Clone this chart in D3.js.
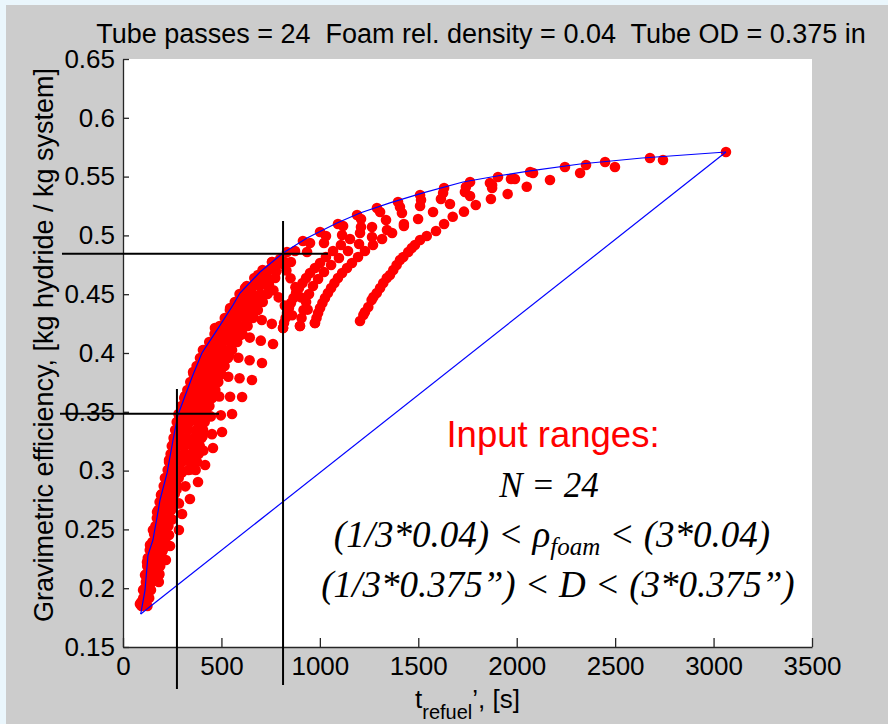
<!DOCTYPE html>
<html>
<head>
<meta charset="utf-8">
<script src="https://cdn.jsdelivr.net/npm/d3@7"></script>
<style>
  body { margin: 0; background: #eaf6fc; }
  svg { display: block; }
</style>
</head>
<body>
<div id="chart"></div>
<script>
// data: refuel time [s] vs gravimetric efficiency

var xTicks = [0, 500, 1000, 1500, 2000, 2500, 3000, 3500],
    yTicks = [0.15, 0.2, 0.25, 0.3, 0.35, 0.4, 0.45, 0.5, 0.55, 0.6, 0.65];

// blue pareto front
var frontT   = [90, 112, 127, 152, 173, 188, 224, 254, 279, 351, 401, 478, 559, 594, 696, 813, 935, 1087, 1204, 1356, 1524, 1727, 1900, 2068, 2322, 2637, 3063],
    frontEff = [0.178, 0.1985, 0.2282, 0.241, 0.2605, 0.275, 0.298, 0.326, 0.3473, 0.3796, 0.4, 0.4196, 0.4408, 0.451, 0.4689, 0.485, 0.4978, 0.5105, 0.519, 0.5276, 0.5361, 0.5454, 0.5505, 0.5548, 0.5607, 0.5658, 0.5709];

// straight line between the two extremes
var chordT = [90, 3063],
    chordEff = [0.178, 0.5709];

// design points, one list per swept curve: [t_refuel, efficiency]
var rowCurves = [
  [[86,.1866],[91,.1878],[99,.1896],[108,.1919],[120,.1950],[137,.1993]],
  [[102,.1985],[110,.1997],[121,.2015],[136,.2038],[155,.2069],[183,.2112]],
  [[112,.2112],[122,.2125],[137,.2143],[156,.2166],[182,.2196],[218,.2240]],
  [[122,.2223],[133,.2236],[150,.2255],[171,.2280],[199,.2313],[239,.2359]],
  [[137,.2367],[152,.2380],[173,.2398],[199,.2421],[234,.2452],[284,.2495]],
  [[152,.2495],[167,.2508],[188,.2527],[214,.2552],[249,.2585],[300,.2631]],
  [[173,.2648],[190,.2659],[213,.2674],[244,.2695],[284,.2721],[340,.2759]],
  [[193,.2793],[212,.2804],[238,.2819],[272,.2839],[317,.2866],[381,.2903]],
  [[213,.2937],[234,.2948],[262,.2963],[299,.2984],[347,.3010],[417,.3048]],
  [[234,.3090],[249,.3099],[271,.3109],[298,.3121],[330,.3135],[365,.3151],[408,.3171],[457,.3192]],
  [[259,.3243],[278,.3250],[303,.3258],[332,.3269],[366,.3281],[405,.3294],[452,.3310],[503,.3328]],
  [[284,.3430],[306,.3435],[333,.3440],[365,.3446],[403,.3452],[446,.3461],[497,.3470],[554,.3481]],
  [[315,.3634],[338,.3633],[367,.3633],[402,.3632],[442,.3631],[489,.3630],[544,.3628],[605,.3626]],
  [[356,.3838],[379,.3833],[409,.3827],[445,.3818],[488,.3809],[535,.3798],[592,.3785],[655,.3770]],
  [[406,.4025],[430,.4017],[460,.4006],[496,.3992],[538,.3977],[586,.3959],[643,.3938],[706,.3915]],
  [[467,.4213],[491,.4202],[520,.4188],[556,.4172],[597,.4153],[644,.4131],[700,.4105],[762,.4077]],
  [[544,.4383],[565,.4369],[592,.4352],[624,.4332],[662,.4308],[705,.4281],[756,.4248],[813,.4213]],
  [[706,.4663],[721,.4628],[741,.4585],[764,.4533],[791,.4473],[822,.4403],[859,.4321],[899,.4230]],
  [[798,.4799],[812,.4756],[830,.4702],[851,.4636],[876,.4560],[904,.4473],[938,.4369],[975,.4255]]
];

// points packed just under the front
var bandCurves = [
  [[94,.1849],[103,.1917],[112,.1985],[116,.2053],[119,.2121],[123,.2189],[126,.2257],[136,.2325],
   [149,.2393],[158,.2461],[165,.2529],[172,.2597],[179,.2665],[186,.2733],[197,.2801],[207,.2869],
   [217,.2937],[227,.3005],[234,.3073],[242,.3141],[248,.3209],[257,.3277],[265,.3345],[273,.3413],
   [282,.3481],[297,.3549],[311,.3617],[327,.3685],[342,.3753],[358,.3821],[374,.3889],[391,.3957],
   [412,.4025],[438,.4094],[465,.4162],[491,.4230],[517,.4298],[543,.4366],[568,.4434],[592,.4502],
   [629,.4570],[667,.4638],[709,.4706],[757,.4774]],
  [[124,.1849],[133,.1917],[142,.1985],[146,.2053],[149,.2121],[153,.2189],[156,.2257],[166,.2325],
   [179,.2393],[188,.2461],[195,.2529],[202,.2597],[209,.2665],[216,.2733],[227,.2801],[237,.2869],
   [247,.2937],[257,.3005],[264,.3073],[272,.3141],[278,.3209],[287,.3277],[295,.3345],[303,.3413],
   [312,.3481],[327,.3549],[341,.3617],[357,.3685],[372,.3753],[388,.3821],[404,.3889],[421,.3957],
   [442,.4025],[468,.4094],[495,.4162],[521,.4230],[547,.4298],[573,.4366],[598,.4434],[622,.4502],
   [659,.4570],[697,.4638],[739,.4706],[787,.4774]],
  [[182,.2053],[185,.2121],[189,.2189],[192,.2257],[202,.2325],[215,.2393],[224,.2461],[231,.2529],
   [238,.2597],[245,.2665],[252,.2733],[263,.2801],[273,.2869],[283,.2937],[293,.3005],[300,.3073],
   [308,.3141],[314,.3209],[323,.3277],[331,.3345],[339,.3413],[348,.3481],[363,.3549],[377,.3617],
   [393,.3685],[408,.3753],[424,.3821],[440,.3889],[457,.3957],[478,.4025],[504,.4094],[531,.4162],
   [557,.4230],[583,.4298],[609,.4366],[634,.4434],[658,.4502],[695,.4570],[733,.4638],[775,.4706],[823,.4774]],
  [[333,.3005],[340,.3073],[348,.3141],[354,.3209],[363,.3277],[371,.3345],[379,.3413],[388,.3481],
   [403,.3549],[417,.3617],[433,.3685],[448,.3753],[464,.3821],[480,.3889],[497,.3957],[518,.4025],
   [544,.4094],[571,.4162],[597,.4230],[623,.4298],[649,.4366],[674,.4434],[698,.4502],[735,.4570],[773,.4638]],
  [[369,.3005],[376,.3073],[384,.3141],[390,.3209],[399,.3277],[407,.3345],[415,.3413],[424,.3481],
   [439,.3549],[453,.3617],[469,.3685],[484,.3753],[500,.3821],[516,.3889],[533,.3957],[554,.4025],
   [580,.4094],[607,.4162],[633,.4230],[659,.4298],[685,.4366],[710,.4434],[734,.4502]]
];

var arcCurves = [
  [[1204,.4272],[1221,.4323],[1229,.4349],[1246,.4391],[1263,.4451],[1272,.4476],[1289,.4510],[1306,.4553],
   [1322,.4595],[1340,.4638],[1356,.4663],[1373,.4706],[1390,.4748],[1407,.4791],[1424,.4816],[1449,.4859],
   [1467,.4893],[1483,.4918],[1509,.4961],[1543,.4995],[1590,.5037],[1631,.5097],[1675,.5159],[1732,.5202],
   [1792,.5259],[1869,.5310],[1954,.5352],[2051,.5414],[2169,.5471],[2322,.5531],[2499,.5582],[2743,.5641]],
  [[975,.4255],[983,.4298],[991,.4340],[1001,.4383],[1013,.4425],[1026,.4468],[1041,.4510],[1057,.4553],
   [1074,.4595],[1092,.4638],[1113,.4680],[1138,.4723],[1163,.4765],[1194,.4816],[1229,.4867],[1270,.4918],
   [1316,.4969],[1367,.5020],[1427,.5080],[1499,.5139],[1575,.5199],[1661,.5267],[1763,.5335],[1875,.5403],
   [1971,.5480],[2083,.5531],[2352,.5599]],
  [[899,.4230],[907,.4298],[917,.4366],[930,.4434],[945,.4502],[965,.4570],[991,.4629],[1021,.4689],
   [1057,.4748],[1097,.4808],[1143,.4867],[1199,.4927],[1265,.4986],[1341,.5046],[1427,.5097]],
  [[813,.4213],[818,.4255],[826,.4298],[833,.4340],[843,.4383],[853,.4425],[866,.4468],[879,.4510],
   [894,.4553],[912,.4595],[930,.4638],[950,.4680],[975,.4723],[1001,.4765],[1031,.4816],[1067,.4867],
   [1107,.4918],[1153,.4969],[1204,.5020],[1265,.5071],[1336,.5131],[1417,.5190],[1509,.5250],[1615,.5310],
   [1737,.5369],[1875,.5429]],
  [[874,.4867],[950,.4935],[1031,.4995],[1118,.5080],[1209,.5139],[1306,.5199],[1407,.5241],[1514,.5301],
   [1626,.5361],[1742,.5412],[1864,.5446],[1991,.5480]],
  [[554,.4357],[620,.4553],[686,.4663],[757,.4774],[833,.4859],[914,.4952],[1001,.5029],[1092,.5097],
   [1189,.5173],[1290,.5233],[1397,.5284],[1509,.5344],[1631,.5403],[1763,.5454],[1905,.5497],[2068,.5539],
   [2245,.5582],[2449,.5624],[2677,.5658],[3063,.5709]],
  [[645,.4519],[706,.4604],[777,.4689],[853,.4774],[935,.4859],[1021,.4935],[1113,.5003],[1209,.5071]]
];

// black guide lines drawn on the slide: [t0, eff0, t1, eff1]
var guideLines = [
  [813, 0.5122, 813, 0.1177],
  [-310, 0.4844, 1041, 0.4844],
  [274, 0.3694, 274, 0.1143],
  [-320, 0.3484, 488, 0.3484]
];

// ---------------------------------------------------------------

var svg = d3.select("#chart").append("svg")
    .attr("width", 888)
    .attr("height", 724);

svg.append("rect")
    .attr("width", 888).attr("height", 724)
    .attr("fill", "#eaf6fc");

svg.append("rect")
    .attr("x", 6).attr("y", 5)
    .attr("width", 882).attr("height", 719)
    .attr("fill", "#cccccc");

var x = d3.scaleLinear().domain([0, 3500]).range([123, 812]);
var y = d3.scaleLinear().domain([0.15, 0.65]).range([647, 59]);

svg.append("rect")
    .attr("x", x(0)).attr("y", y(0.65))
    .attr("width", x(3500) - x(0))
    .attr("height", y(0.15) - y(0.65))
    .attr("fill", "#ffffff");

var sans = "'Liberation Sans', Arial, sans-serif",
    serif = "'Liberation Serif', 'Times New Roman', serif";

var xAxis = d3.axisBottom(x)
    .tickValues(xTicks)
    .tickSize(-9)
    .tickSizeOuter(0)
    .tickPadding(10)
    .tickFormat(d3.format("d"));

var yAxis = d3.axisLeft(y)
    .tickValues(yTicks)
    .tickSize(-6)
    .tickSizeOuter(0)
    .tickPadding(8)
    .tickFormat(function(d) { return String(+d.toFixed(2)); });

var gX = svg.append("g")
    .attr("transform", "translate(0," + y(0.15) + ")")
    .call(xAxis);

var gY = svg.append("g")
    .attr("transform", "translate(" + x(0) + ",0)")
    .call(yAxis);

[gX, gY].forEach(function(g) {
    g.attr("font-family", sans).attr("font-size", 26);
    g.selectAll("path, line").attr("stroke", "#262626").attr("stroke-width", 1.3);
    g.selectAll("text").attr("fill", "#000");
});

// red design points
var allCurves = rowCurves.concat(bandCurves, arcCurves);
var dots = svg.append("g").attr("class", "dots");
allCurves.forEach(function(c) {
    dots.selectAll(null)
        .data(c)
        .enter()
        .append("circle")
        .attr("cx", function(d) { return x(d[0]); })
        .attr("cy", function(d) { return y(d[1]); })
        .attr("r", 5.3)
        .attr("fill", "#ff0000");
});

// blue lines
var line = d3.line()
    .x(function(d) { return x(d[0]); })
    .y(function(d) { return y(d[1]); });

svg.append("path")
    .datum(frontT.map(function(t, i) { return [t, frontEff[i]]; }))
    .attr("d", line)
    .attr("fill", "none")
    .attr("stroke", "#0000ff")
    .attr("stroke-width", 1.2);

svg.append("path")
    .datum(chordT.map(function(t, i) { return [t, chordEff[i]]; }))
    .attr("d", line)
    .attr("fill", "none")
    .attr("stroke", "#0000ff")
    .attr("stroke-width", 1.2);

// black guide lines
svg.selectAll(".guide")
    .data(guideLines)
    .enter()
    .append("line")
    .attr("x1", function(d) { return x(d[0]); })
    .attr("y1", function(d) { return y(d[1]); })
    .attr("x2", function(d) { return x(d[2]); })
    .attr("y2", function(d) { return y(d[3]); })
    .attr("stroke", "#000")
    .attr("stroke-width", 2);

// title and axis labels
svg.append("text")
    .attr("x", 481).attr("y", 43)
    .attr("text-anchor", "middle")
    .attr("font-family", sans).attr("font-size", 27)
    .attr("xml:space", "preserve")
    .text("Tube passes = 24  Foam rel. density = 0.04  Tube OD = 0.375 in");

svg.append("text")
    .attr("transform", "translate(53,345) rotate(-90)")
    .attr("text-anchor", "middle")
    .attr("font-family", sans).attr("font-size", 27)
    .text("Gravimetric efficiency, [kg hydride / kg system]");

var xl = svg.append("text")
    .attr("x", 415).attr("y", 708)
    .attr("font-family", sans).attr("font-size", 26);
xl.append("tspan").text("t");
xl.append("tspan").attr("font-size", 20).attr("dy", 11).text("refuel");
xl.append("tspan").attr("dy", -11).text("\u2019, [s]");

// annotation
svg.append("text")
    .attr("x", 553).attr("y", 447)
    .attr("text-anchor", "middle")
    .attr("font-family", sans).attr("font-size", 36.5)
    .attr("fill", "#ff0000")
    .text("Input ranges:");

svg.append("text")
    .attr("x", 549).attr("y", 497)
    .attr("text-anchor", "middle")
    .attr("font-family", serif).attr("font-size", 35)
    .attr("font-style", "italic")
    .text("N = 24");

var rho = svg.append("text")
    .attr("x", 552).attr("y", 547)
    .attr("text-anchor", "middle")
    .attr("font-family", serif).attr("font-size", 37)
    .attr("font-style", "italic");
rho.append("tspan").text("(1/3*0.04) < \u03c1");
rho.append("tspan").attr("font-size", 25).attr("dy", 8).text("foam");
rho.append("tspan").attr("dy", -8).text(" < (3*0.04)");

svg.append("text")
    .attr("x", 558).attr("y", 597)
    .attr("text-anchor", "middle")
    .attr("font-family", serif).attr("font-size", 37)
    .attr("font-style", "italic")
    .text("(1/3*0.375\u201d) < D < (3*0.375\u201d)");
</script>
</body>
</html>
